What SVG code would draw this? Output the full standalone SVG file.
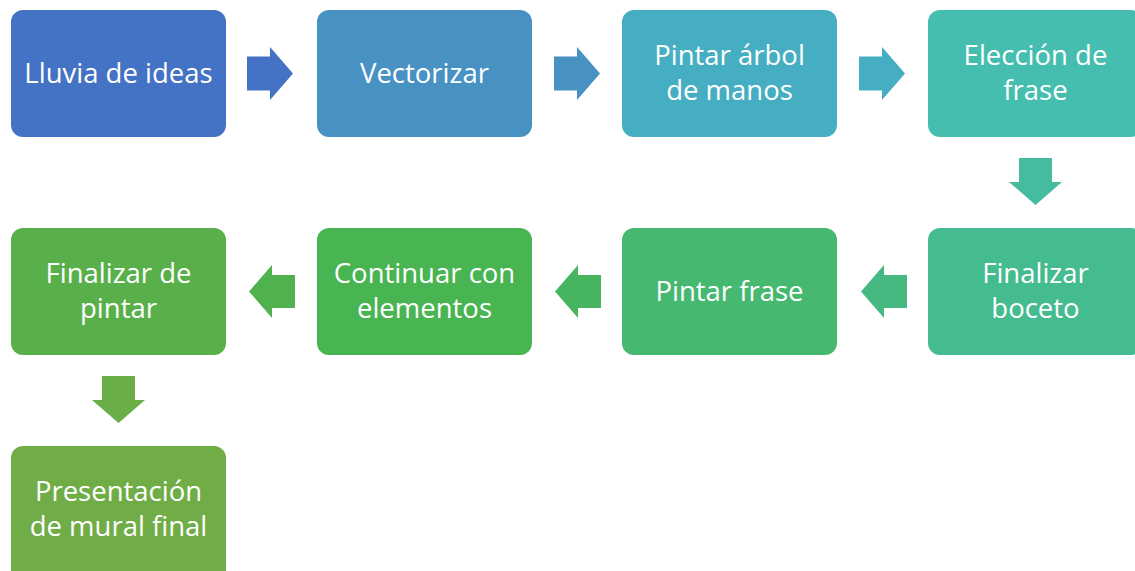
<svg xmlns="http://www.w3.org/2000/svg" width="1135" height="571" viewBox="0 0 1135 571">
<style>
.box{stroke:none}
.t{font-family:"Open Sans","Noto Sans",sans-serif;font-size:27.5px;fill:#ffffff;text-anchor:middle}
</style>
<rect width="1135" height="571" fill="#ffffff"/>
<g id="connectors">
<path d="M247,56.5H270V47L293,73.5L270,100V90.5H247Z" fill="#4472C4"/>
<path d="M554,56.5H577V47L600,73.5L577,100V90.5H554Z" fill="#4791C3"/>
<path d="M859,56.5H882V47L905,73.5L882,100V90.5H859Z" fill="#46AEC2"/>
<path d="M1019,158H1052V182H1062L1035.5,205L1009,182H1019Z" fill="#45BBA0"/>
<path d="M907,275H884V265L861,291.5L884,318V308H907Z" fill="#45B97F"/>
<path d="M601,275H578V265L555,291.5L578,318V308H601Z" fill="#47B560"/>
<path d="M295,275H272V265L249,291.5L272,318V308H295Z" fill="#50B24E"/>
<path d="M102,376H135V400H145L118.5,423L92,400H102Z" fill="#6AAE47"/>
</g>
<g id="n1"><rect class="box" x="11" y="10" width="215" height="127" rx="12" fill="#4472C4"/><text class="t" x="118.5" y="83">Lluvia de ideas</text></g>
<g id="n2"><rect class="box" x="317" y="10" width="215" height="127" rx="12" fill="#4791C3"/><text class="t" x="424.5" y="83">Vectorizar</text></g>
<g id="n3"><rect class="box" x="622" y="10" width="215" height="127" rx="12" fill="#46AEC2"/><text class="t" x="729.5" y="65">Pintar árbol</text><text class="t" x="729.5" y="100">de manos</text></g>
<g id="n4"><rect class="box" x="928" y="10" width="215" height="127" rx="12" fill="#45BEB0"/><text class="t" x="1035.5" y="65">Elección de</text><text class="t" x="1035.5" y="100">frase</text></g>
<g id="n5"><rect class="box" x="928" y="228" width="215" height="127" rx="12" fill="#45BB90"/><text class="t" x="1035.5" y="283">Finalizar</text><text class="t" x="1035.5" y="318">boceto</text></g>
<g id="n6"><rect class="box" x="622" y="228" width="215" height="127" rx="12" fill="#46B870"/><text class="t" x="729.5" y="301">Pintar frase</text></g>
<g id="n7"><rect class="box" x="317" y="228" width="215" height="127" rx="12" fill="#48B452"/><text class="t" x="424.5" y="283">Continuar con</text><text class="t" x="424.5" y="318">elementos</text></g>
<g id="n8"><rect class="box" x="11" y="228" width="215" height="127" rx="12" fill="#59B04A"/><text class="t" x="118.5" y="283">Finalizar de</text><text class="t" x="118.5" y="318">pintar</text></g>
<g id="n9"><rect class="box" x="11" y="446" width="215" height="140" rx="12" fill="#70AD47"/><text class="t" x="118.5" y="501">Presentación</text><text class="t" x="118.5" y="536">de mural final</text></g>
</svg>
